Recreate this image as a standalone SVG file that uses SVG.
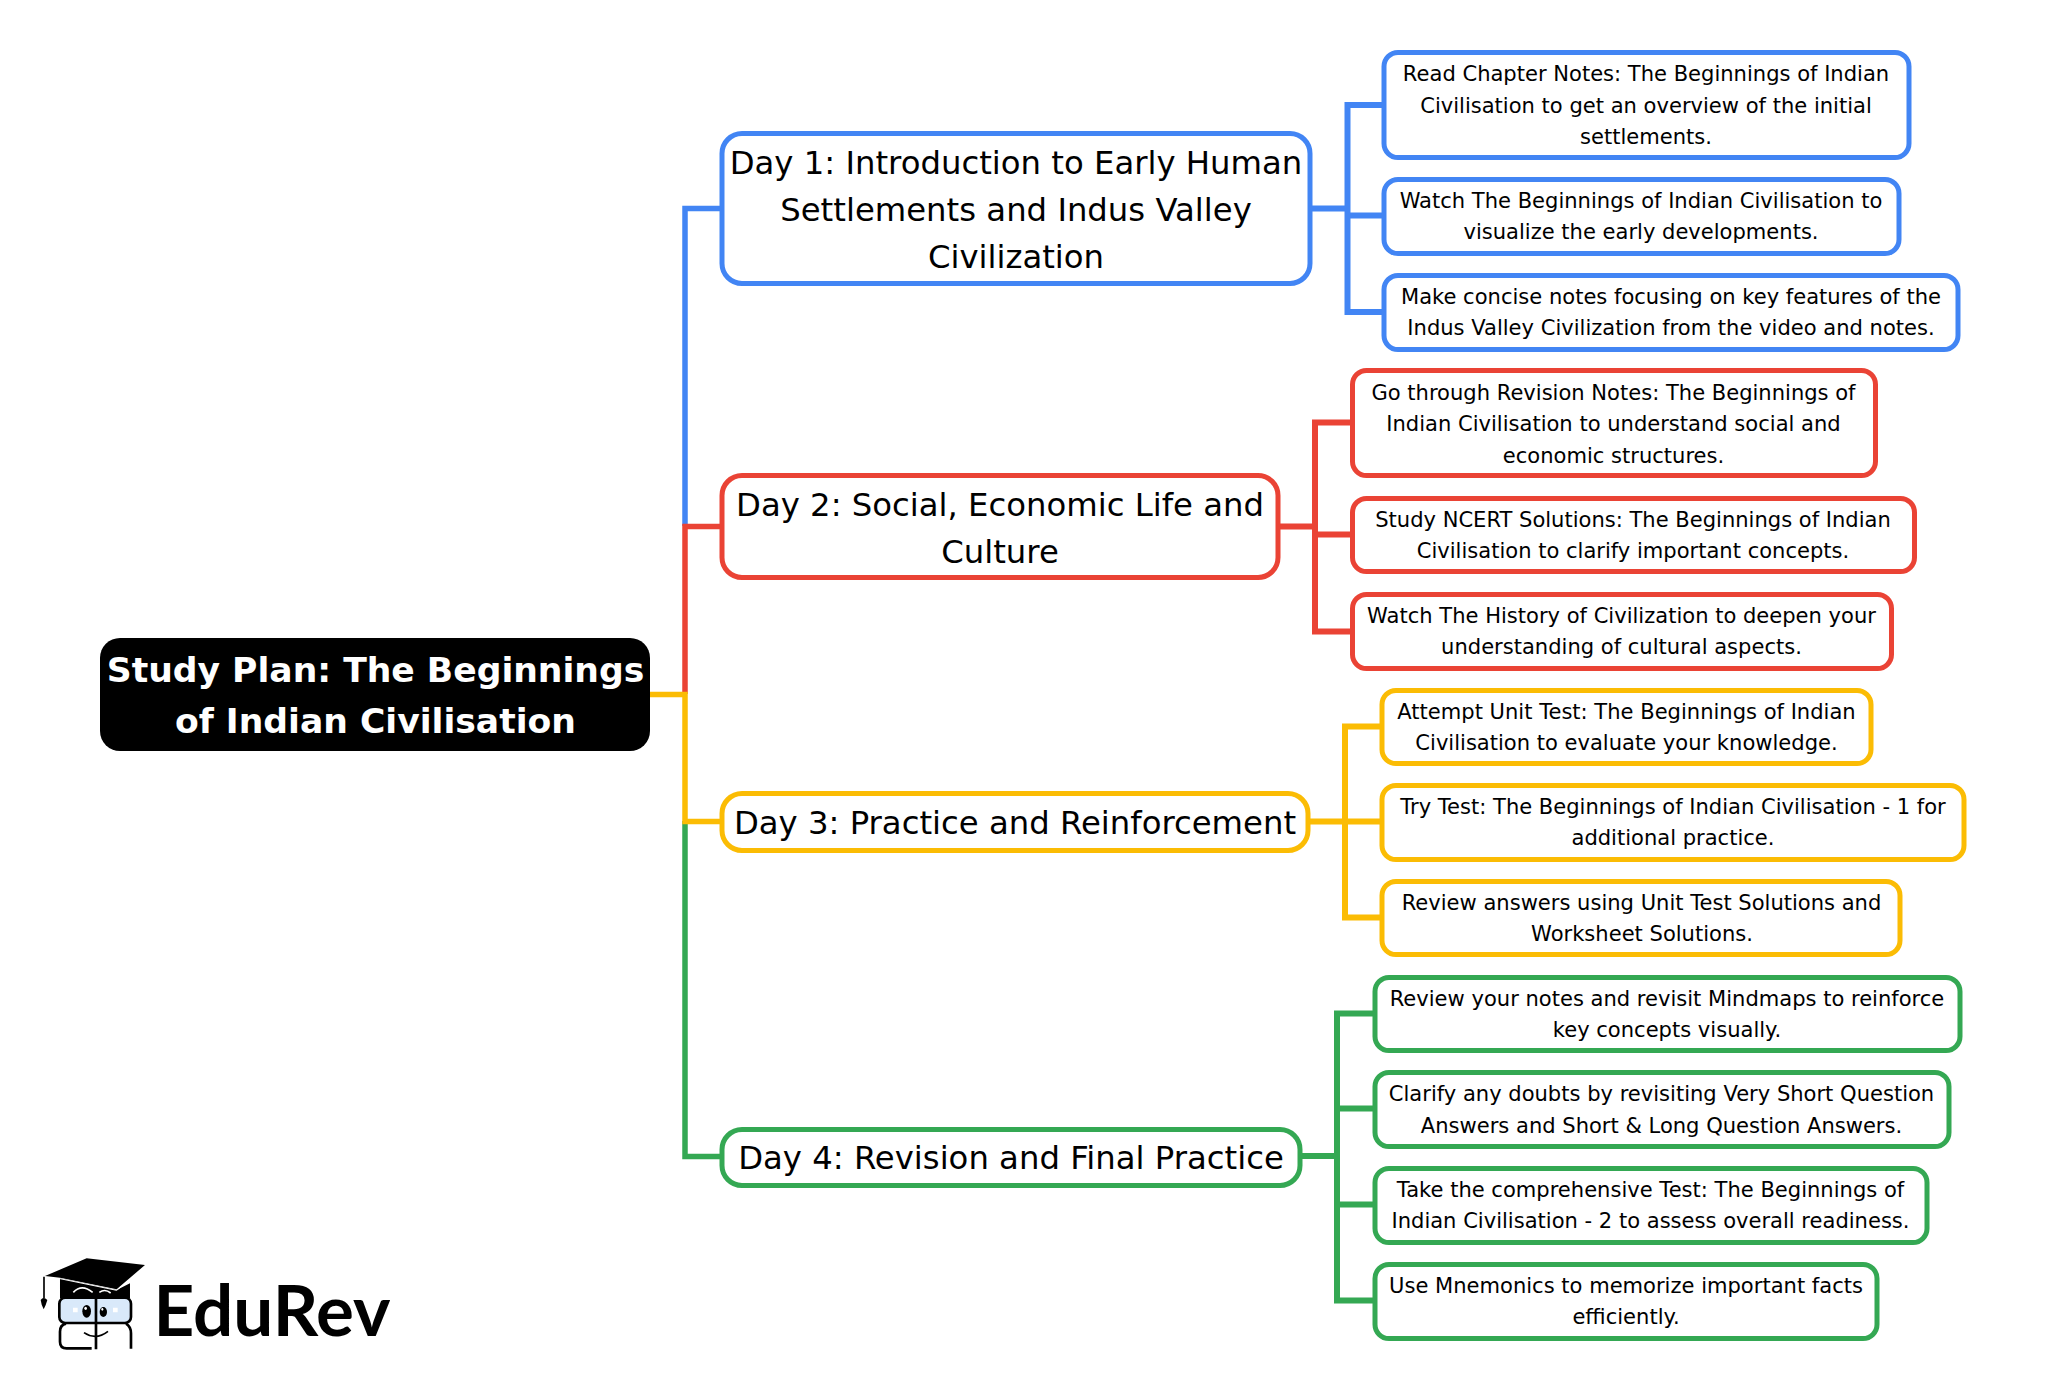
<svg xmlns="http://www.w3.org/2000/svg" width="2065" height="1389" viewBox="0 0 2065 1389">
<style>
text{font-family:"DejaVu Sans",sans-serif;text-anchor:middle;fill:#000}
.root{font-size:34.6px;font-weight:700;fill:#fff}
.day{font-size:32.3px}
.leaf{font-size:21.05px}
rect{fill:#fff;stroke-width:5}
.c{fill:none;stroke-width:6}
.t{fill:none;stroke-width:5.5}
.b{stroke:#4285f4}.r{stroke:#ea4335}.a{stroke:#fbbc04}.g{stroke:#34a853}
</style>
<rect width="2065" height="1389" style="stroke:none"/>
<g id="connectors">
<path class="t g" d="M685 821V1156.500H722"/>
<path class="t b" d="M722 208.500H685V526"/>
<path class="t r" d="M722 526.500H685V694"/>
<path class="t a" d="M649 694.500H685V821.500H722"/>
<path class="c b" d="M1310 208.500H1347.500M1384 105H1347.500V312H1384M1347.500 215.500H1384"/>
<path class="c r" d="M1278 526.500H1315M1352 422.500H1315V631.500H1352M1315 534.500H1352"/>
<path class="c a" d="M1308 821.500H1381M1381 726.500H1345V917.500H1381"/>
<path class="c g" d="M1300 1156H1337M1375 1013.500H1337V1300.500H1375M1337 1108.500H1375M1337 1204.500H1375"/>
</g>
<g id="root"><rect x="100" y="638" width="550" height="113" rx="20" style="fill:#000;stroke:none"/><text class="root" x="375.500" y="682">Study Plan: The Beginnings</text><text class="root" x="375.500" y="733">of Indian Civilisation</text></g>
<g id="day1"><rect class="b" x="722" y="133.500" width="588" height="150" rx="20"/><text class="day" x="1016" y="173.500">Day 1: Introduction to Early Human</text><text class="day" x="1016" y="220.500">Settlements and Indus Valley</text><text class="day" x="1016" y="267.500">Civilization</text></g>
<g id="day2"><rect class="r" x="722" y="475.500" width="556" height="102" rx="20"/><text class="day" x="1000" y="516">Day 2: Social, Economic Life and</text><text class="day" x="1000" y="563">Culture</text></g>
<g id="day3"><rect class="a" x="722" y="793.500" width="586" height="57" rx="20"/><text class="day" x="1015" y="833.500">Day 3: Practice and Reinforcement</text></g>
<g id="day4"><rect class="g" x="722" y="1129.500" width="578" height="56" rx="20"/><text class="day" x="1011" y="1169">Day 4: Revision and Final Practice</text></g>
<g id="leaf-b1"><rect class="b" x="1384" y="52.500" width="525" height="105" rx="14"/><text class="leaf" x="1646" y="81">Read Chapter Notes: The Beginnings of Indian</text><text class="leaf" x="1646" y="112.500">Civilisation to get an overview of the initial</text><text class="leaf" x="1646" y="144">settlements.</text></g>
<g id="leaf-b2"><rect class="b" x="1384" y="179.500" width="515" height="74" rx="14"/><text class="leaf" x="1641" y="207.500">Watch The Beginnings of Indian Civilisation to</text><text class="leaf" x="1641" y="239">visualize the early developments.</text></g>
<g id="leaf-b3"><rect class="b" x="1384" y="275.500" width="574" height="74" rx="14"/><text class="leaf" x="1671" y="304">Make concise notes focusing on key features of the</text><text class="leaf" x="1671" y="335">Indus Valley Civilization from the video and notes.</text></g>
<g id="leaf-r1"><rect class="r" x="1352.500" y="370.500" width="523" height="105" rx="14"/><text class="leaf" x="1613.500" y="400">Go through Revision Notes: The Beginnings of</text><text class="leaf" x="1613.500" y="431">Indian Civilisation to understand social and</text><text class="leaf" x="1613.500" y="462.500">economic structures.</text></g>
<g id="leaf-r2"><rect class="r" x="1352.500" y="498.500" width="562" height="73" rx="14"/><text class="leaf" x="1633" y="526.500">Study NCERT Solutions: The Beginnings of Indian</text><text class="leaf" x="1633" y="558">Civilisation to clarify important concepts.</text></g>
<g id="leaf-r3"><rect class="r" x="1352.500" y="594.500" width="539" height="74" rx="14"/><text class="leaf" x="1621.500" y="622.500">Watch The History of Civilization to deepen your</text><text class="leaf" x="1621.500" y="654">understanding of cultural aspects.</text></g>
<g id="leaf-a1"><rect class="a" x="1382" y="690.500" width="489" height="73" rx="14"/><text class="leaf" x="1626.500" y="718.500">Attempt Unit Test: The Beginnings of Indian</text><text class="leaf" x="1626.500" y="750">Civilisation to evaluate your knowledge.</text></g>
<g id="leaf-a2"><rect class="a" x="1382" y="785.500" width="582" height="74" rx="14"/><text class="leaf" x="1673" y="813.500">Try Test: The Beginnings of Indian Civilisation - 1 for</text><text class="leaf" x="1673" y="845">additional practice.</text></g>
<g id="leaf-a3"><rect class="a" x="1382" y="881.500" width="518" height="73" rx="14"/><text class="leaf" x="1641.500" y="909.500">Review answers using Unit Test Solutions and</text><text class="leaf" x="1642" y="941">Worksheet Solutions.</text></g>
<g id="leaf-g1"><rect class="g" x="1375" y="977.500" width="585" height="73" rx="14"/><text class="leaf" x="1667" y="1005.500">Review your notes and revisit Mindmaps to reinforce</text><text class="leaf" x="1667" y="1037">key concepts visually.</text></g>
<g id="leaf-g2"><rect class="g" x="1375" y="1072.500" width="574" height="74" rx="14"/><text class="leaf" x="1661.500" y="1101">Clarify any doubts by revisiting Very Short Question</text><text class="leaf" x="1661.500" y="1132.500">Answers and Short &amp; Long Question Answers.</text></g>
<g id="leaf-g3"><rect class="g" x="1375" y="1168.500" width="552" height="74" rx="14"/><text class="leaf" x="1650.500" y="1196.500">Take the comprehensive Test: The Beginnings of</text><text class="leaf" x="1650.500" y="1228">Indian Civilisation - 2 to assess overall readiness.</text></g>
<g id="leaf-g4"><rect class="g" x="1375" y="1264.500" width="502" height="74" rx="14"/><text class="leaf" x="1626" y="1292.500">Use Mnemonics to memorize important facts</text><text class="leaf" x="1626" y="1324">efficiently.</text></g>
<g id="logo">
<g transform="translate(0 1230) scale(.3333)">
<path d="M180 145V205H390V160L350 180Z" fill="#000"/>
<path d="M135 138L260 85L435 105L350 178L180 143Z" fill="#000"/>
<path d="M180 146L350 181L390 150" stroke="#fff" stroke-width="3" fill="none"/>
<path d="M132 140V205" stroke="#000" stroke-width="5" fill="none"/>
<path d="M122 210Q130 198 142 210Q138 225 131 238Q124 225 122 210Z" fill="#000"/>
<path d="M220 187Q245 160 278 187M298 187Q315 175 332 189" stroke="#fff" stroke-width="5" fill="none"/>
<rect x="178" y="203" width="215" height="76" rx="18" style="fill:#d9e9fa;stroke:#000;stroke-width:8"/>
<path d="M198 281Q180 285 180 305V335Q180 355 200 355H275M378 281Q393 290 393 310V356M288 196V358" stroke="#000" stroke-width="8" fill="none"/>
<ellipse cx="260" cy="244" rx="13" ry="19" fill="#000"/><ellipse cx="310" cy="246" rx="11" ry="15" fill="#000"/>
<ellipse cx="257" cy="235" rx="4" ry="5" fill="#fff"/><ellipse cx="307" cy="238" rx="3" ry="4" fill="#fff"/>
<path d="M219 233h14v14h-14zM339 233h14v14h-14z" fill="#fff"/>
<path d="M252 308Q288 332 324 304" stroke="#000" stroke-width="5" fill="none"/>
</g>
<text x="272" y="1336" style="font-family:Lato,sans-serif;font-weight:700;font-size:71px">EduRev</text>
</g>
</svg>
